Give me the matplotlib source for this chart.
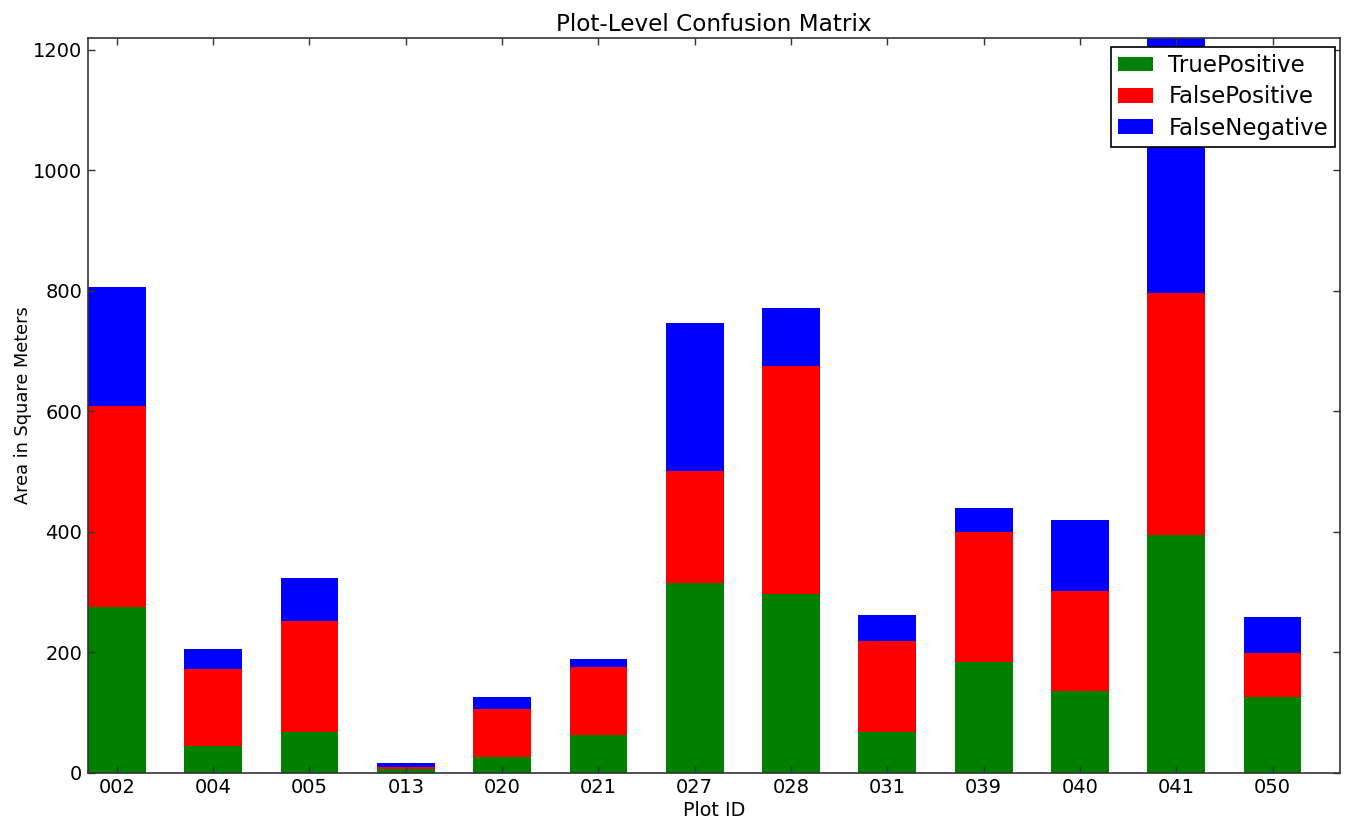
import matplotlib
matplotlib.use("Agg")
import matplotlib.pyplot as plt
import numpy as np

plot_ids = ["002", "004", "005", "013", "020", "021", "027", "028", "031", "039", "040", "041", "050"]
true_positive = [275, 44, 68, 6, 26, 63, 315, 297, 68, 183, 136, 395, 126]
false_positive = [334, 129, 184, 4, 80, 113, 186, 378, 151, 217, 166, 402, 72]
false_negative = [197, 32, 71, 6, 19, 12, 245, 97, 43, 40, 117, 423, 61]

plt.rcParams['font.family'] = ['DejaVu Sans']
plt.rcParams['xtick.direction'] = 'in'
plt.rcParams['ytick.direction'] = 'in'

fig = plt.figure(figsize=(13.45, 8.21), dpi=100, facecolor='white')
ax = fig.add_axes([0.0654, 0.0588, 0.9309, 0.8952])

x = np.arange(len(plot_ids))
tp = np.array(true_positive)
fp = np.array(false_positive)
fn = np.array(false_negative)
w = 0.6

ax.bar(x, tp, width=w, align='edge', color='#008000', linewidth=0, label='TruePositive')
ax.bar(x, fp, width=w, bottom=tp, align='edge', color='#ff0000', linewidth=0, label='FalsePositive')
ax.bar(x, fn, width=w, bottom=tp + fp, align='edge', color='#0000ff', linewidth=0, label='FalseNegative')

ax.set_xlim(0, len(plot_ids))
ax.set_ylim(0, 1220)
ax.set_xticks(x + w / 2)
ax.set_xticklabels(plot_ids)
ax.set_yticks(np.arange(0, 1201, 200))
ax.tick_params(axis='both', labelsize=14, length=5, width=1, top=True, right=True, color='#333333')
ax.tick_params(axis='y', pad=4)
ax.tick_params(axis='x', pad=4)

ax.set_title('Plot-Level Confusion Matrix', fontsize=16.7, pad=5)
ax.set_xlabel('Plot ID', fontsize=13.8, labelpad=3)
ax.set_ylabel('Area in Square Meters', fontsize=12.8, labelpad=1)

for s in ax.spines.values():
    s.set_color('#333333')
    s.set_linewidth(1.2)

leg = ax.legend(loc='upper right', fontsize=16.5, fancybox=False, framealpha=1,
                edgecolor='black', handlelength=1.55, handleheight=0.6,
                borderpad=0.3, labelspacing=0.37, handletextpad=0.65,
                borderaxespad=0,
                bbox_to_anchor=(1335 / 1345, 1 - 47 / 821), bbox_transform=fig.transFigure)
leg.get_frame().set_linewidth(1.2)

fig.savefig('out.png', dpi=100, facecolor='white')
